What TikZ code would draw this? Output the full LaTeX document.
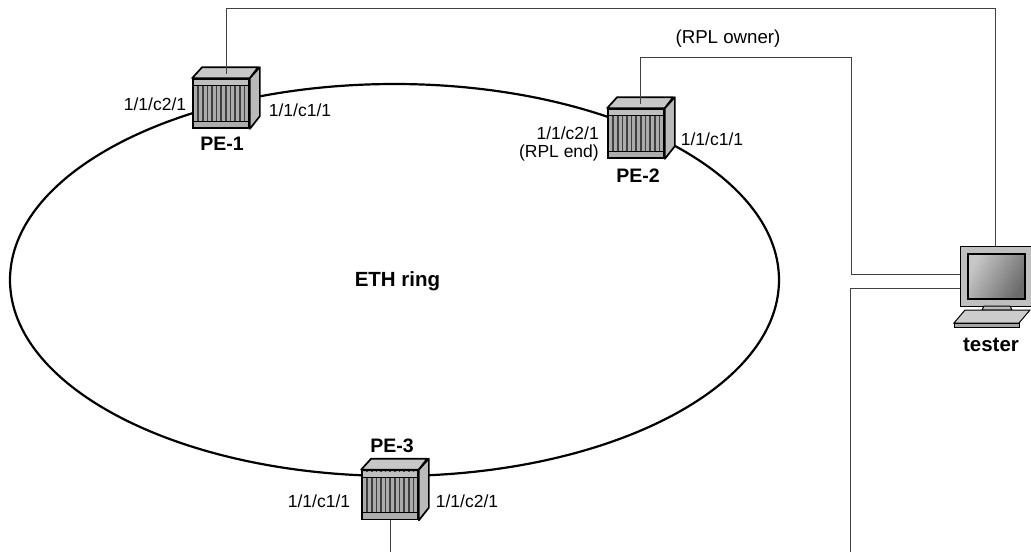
\documentclass[tikz,border=0pt]{standalone}
\usepackage{fontspec}
\setmainfont{Liberation Sans}
\tikzset{
  link/.style={line width=0.9pt, draw=black!75},
  ringline/.style={line width=2.2pt},
  portlabel/.style={font=\fontsize{17.5}{18.5}\selectfont, inner sep=0pt, align=right},
  ownerlabel/.style={font=\fontsize{18.7}{21}\selectfont, inner sep=0pt},
  namelabel/.style={font=\fontsize{19.5}{21}\selectfont\bfseries, inner sep=0pt},
  biglabel/.style={font=\fontsize{20.5}{23}\selectfont\bfseries, inner sep=0pt},
  router/.style={draw, line width=1.7pt, fill=black!75, minimum width=56pt, minimum height=49pt, inner sep=0pt,
    path picture={
      \foreach \i in {0,...,11} {
        \fill[black!33] ([xshift=\i*4.65pt+1.2pt]path picture bounding box.south west) rectangle ++(3pt,49pt);
      }
      \fill[black!25] ([yshift=-1pt]path picture bounding box.north west) rectangle ++(58pt,-6pt);
      \fill[black!32] (path picture bounding box.south west) rectangle ++(58pt,6.5pt);
      \draw[line width=0.7pt] ([yshift=-6.8pt]path picture bounding box.north west) -- ++(58pt,0);
      \draw[line width=0.7pt] ([yshift=6.8pt]path picture bounding box.south west) -- ++(58pt,0);
    }},
}
\newcommand{\routertop}[1]{
  \filldraw[fill=black!22, line width=1.7pt, line join=round] (#1.north west) -- ++(10,-11) -- ++(56,0) -- (#1.north east) -- cycle;
  \filldraw[fill=black!27, line width=1.7pt, line join=round] (#1.north east) -- ++(10,-11) -- ++(0,49) -- (#1.south east) -- cycle;
}
\begin{document}
\begin{tikzpicture}[x=1pt,y=-1pt]
\useasboundingbox (0,0) rectangle (1031,552);
\draw[ringline] (394.5,280) ellipse [x radius=384.5, y radius=196];
\node[router] (pe1) at (221,103.5) {};
\node[router] (pe2) at (636,133.5) {};
\node[router] (pe3) at (390,495) {};
\routertop{pe1}
\routertop{pe2}
\routertop{pe3}
\coordinate (pe1top) at (226,74);
\coordinate (pe2top) at (640,104);
\coordinate (cornerone) at (995.5,8);
\coordinate (cornertwo) at (851,57);
\coordinate (cornerthree) at (851,274);
\coordinate (cornerfour) at (850,288);
\coordinate (pe3end) at (390,552);
\coordinate (testerend) at (850,552);
% tester
\node[draw, line width=1pt, fill=black!25, minimum width=71pt, minimum height=60pt, inner sep=0pt] (tester) at (995.5,276) {};
\draw[fill=black!25, line width=1pt] (982,310) -- (984,306) -- (1010,306) -- (1012,310) -- cycle;
\filldraw[fill=black!20, line width=1pt] (965,310) -- (1030,310) -- (1019,323) -- (954,323) -- cycle;
\filldraw[fill=black!35, line width=1pt] (954,323) -- (1019,323) -- (1019,327) -- (954,327) -- cycle;
\draw[line width=1.2pt, left color=black!22, right color=black!58, shading angle=60] (968,254) rectangle (1025,299);
\draw[link] (pe1top) |- (cornerone) -- (tester.north);
\draw[link] (pe2top) |- (cornertwo) -- (cornerthree) -- (tester.west |- cornerthree);
\draw[link] (pe3.south) -- (pe3end);
\draw[link] (testerend) -- (cornerfour) -- (tester.west |- cornerfour);
\node[portlabel] (pe1left) at (155,104) {1/1/c2/1};
\node[portlabel] (pe1right) at (300,110) {1/1/c1/1};
\node[namelabel] (pe1name) at (222,144) {PE-1};
\node[portlabel, anchor=east] (pe2left) at (599,144) {1/1/c2/1\\(RPL end)};
\node[portlabel] (pe2right) at (712,139) {1/1/c1/1};
\node[namelabel] (pe2name) at (638,176) {PE-2};
\node[ownerlabel] (owner) at (728,39) {(RPL owner)};
\node[biglabel] (ring) at (397.5,281) {ETH ring};
\node[biglabel] (testername) at (991,345) {tester};
\node[namelabel] (pe3name) at (392,446) {PE-3};
\node[portlabel] (pe3left) at (319,501) {1/1/c1/1};
\node[portlabel] (pe3right) at (467,501) {1/1/c2/1};
\end{tikzpicture}
\end{document}
